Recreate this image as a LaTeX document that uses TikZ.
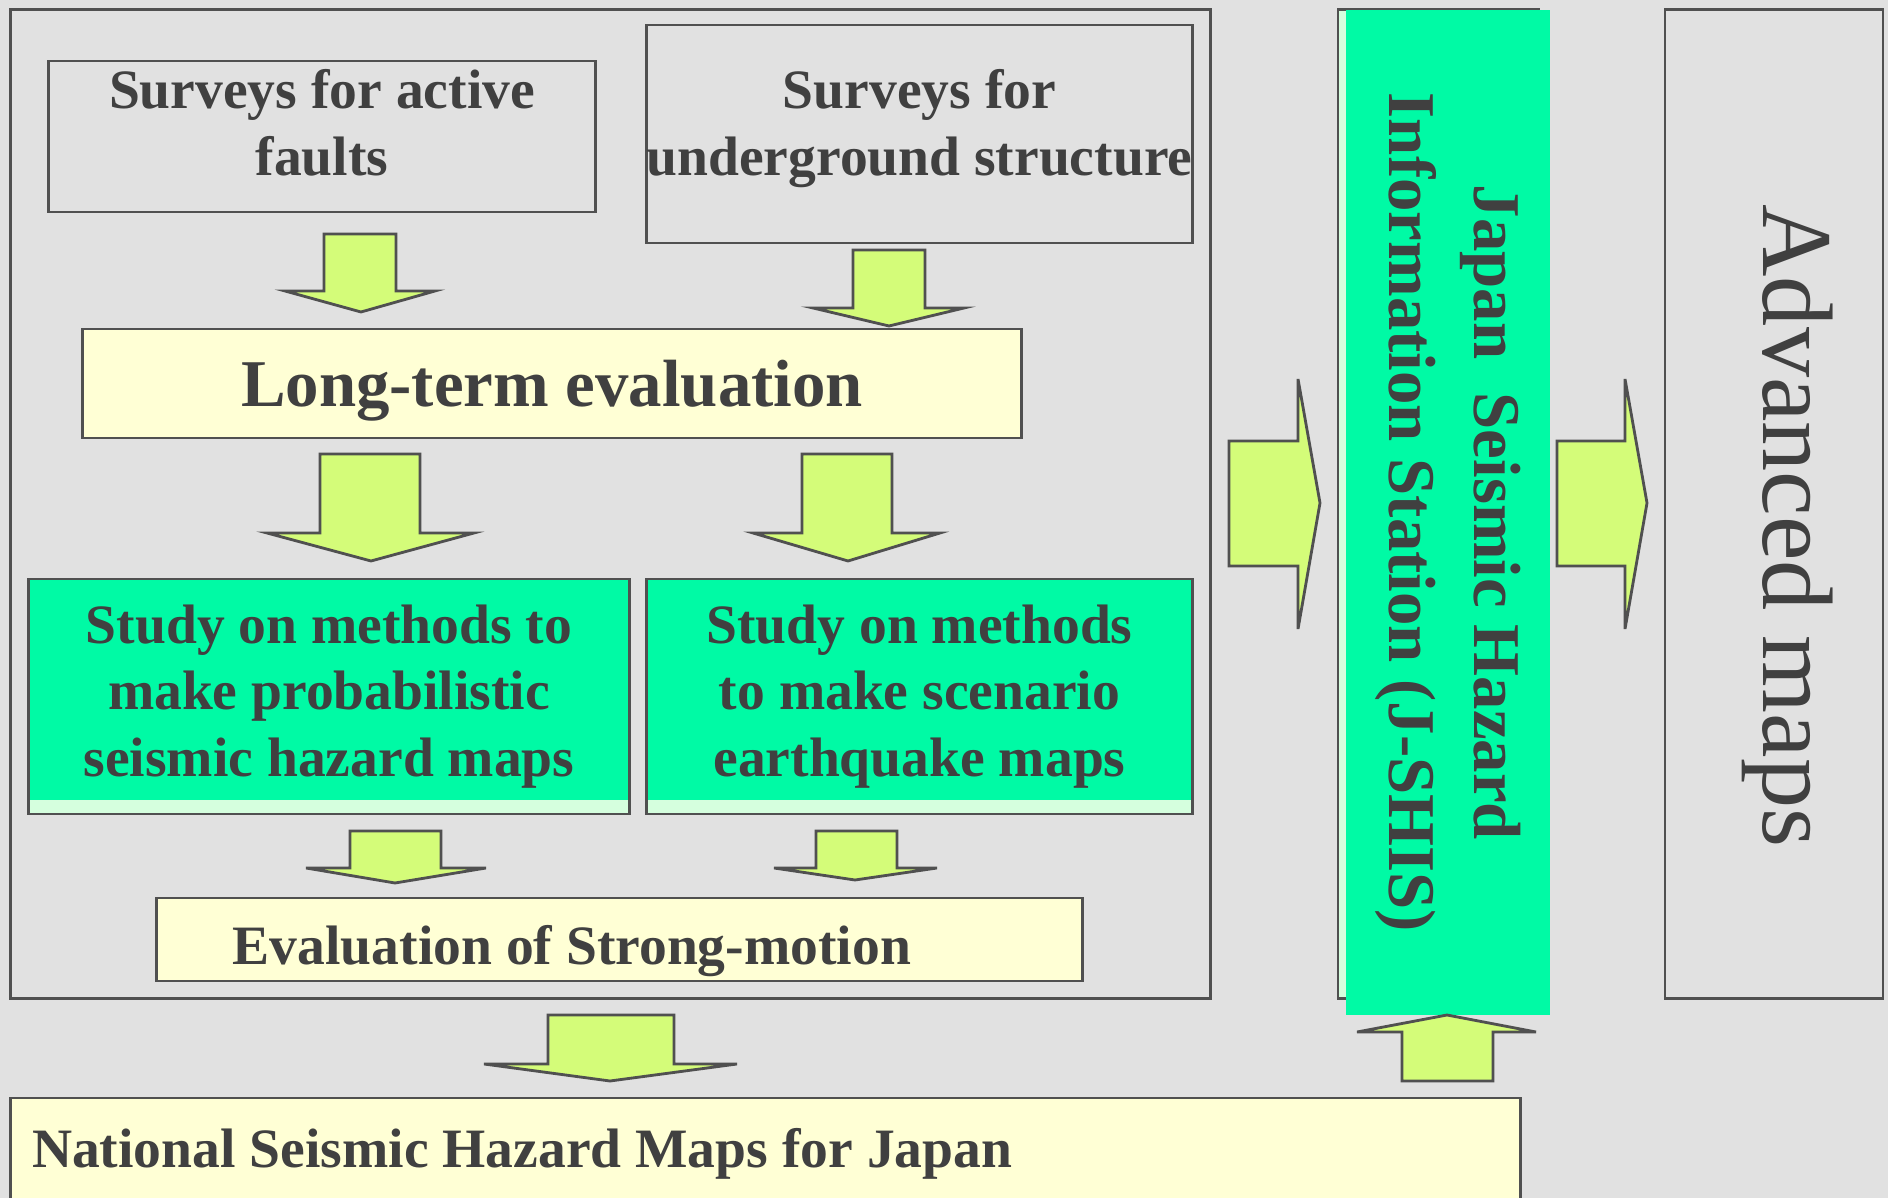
\documentclass[tikz,border=0pt]{standalone}
\usepackage{fontspec}
\setmainfont{Liberation Serif}
\usepackage{tikz}

\definecolor{bggray}{RGB}{225,225,225}
\definecolor{linegray}{RGB}{80,80,80}
\definecolor{txtgray}{RGB}{64,64,64}
\definecolor{cream}{RGB}{255,255,213}
\definecolor{arrowlime}{RGB}{212,252,121}
\definecolor{jgreen}{RGB}{0,250,165}
\definecolor{palegreen}{RGB}{213,255,222}

\begin{document}
\begin{tikzpicture}[x=0.01cm, y=-0.01cm,
  plainbox/.style={draw=linegray, line width=0.8pt, text=txtgray, align=center, inner sep=0pt,
    font=\fontsize{15.8}{19}\selectfont\bfseries},
  creambox/.style={plainbox, fill=cream},
  greenbox/.style={plainbox, fill=jgreen, path picture={
    \fill[palegreen] ([yshift=0.14cm]path picture bounding box.south west) rectangle (path picture bounding box.south east);}},
  fatarrow/.style={draw=linegray, line width=0.8pt, fill=arrowlime}]
\useasboundingbox (0,0) rectangle (1888,1198);
\fill[bggray] (0,0) rectangle (1888,1198);
\clip (0,0) rectangle (1888,1198);

% left frame and the boxes in it
\node[plainbox, minimum width=11.99cm, minimum height=9.88cm] (frame) at (610.5,504) {};
\node[plainbox, minimum width=5.46cm, minimum height=1.51cm] (faults) at (322,136.5) {Surveys for active\\faults\rule[-8pt]{0pt}{8pt}};
\node[plainbox, minimum width=5.45cm, minimum height=2.18cm] (under) at (919.5,134) {Surveys for\\underground structure\rule[-6.8pt]{0pt}{6.8pt}};
\node[creambox, minimum width=9.38cm, minimum height=1.09cm, text height=17pt, text depth=4.1pt,
  font=\fontsize{19}{23}\selectfont\bfseries] (longterm) at (552,383.5) {Long-term evaluation};
\node[greenbox, minimum width=6.00cm, minimum height=2.35cm] (prob) at (329,696.5) {Study on methods to\\make probabilistic\\seismic hazard maps};
\node[greenbox, minimum width=5.45cm, minimum height=2.35cm] (scen) at (919.5,696.5) {Study on methods\\to make scenario\\earthquake maps};
\node[creambox, minimum height=0.83cm, text width=7.73cm, inner xsep=0.76cm, align=flush left,
  text height=17.7pt, text depth=3.4pt] (strong) at (619.5,939.5) {Evaluation of Strong-motion};
\node[creambox, minimum height=1.12cm, text width=14.66cm, inner xsep=0.215cm, align=flush left] (national) at (765.5,1154) {National Seismic Hazard Maps for Japan};

% J-SHIS column
\node[plainbox, fill=palegreen, minimum width=2.01cm, minimum height=9.88cm] (jframe) at (1438.5,504) {};
\node[fill=jgreen, text=txtgray, align=center, inner sep=0pt, rotate=-90, minimum width=10.05cm, minimum height=2.04cm,
  font=\fontsize{19}{24}\selectfont\bfseries] (jshis) at (1448,512.5) {Japan\ \ Seismic Hazard\\Information Station (J-SHIS)};

% advanced maps
\node[plainbox, minimum width=2.18cm, minimum height=9.88cm] (adv) at (1774,504) {};
\node[rotate=-90, text=txtgray, font=\fontsize{28.5}{34}\selectfont] (advtext) at (1788,526) {Advanced maps};

% down arrows
\draw[fatarrow] (324,234) -- (396,234) -- (396,291) -- (435,291) -- (361,312) -- (285,291) -- (324,291) -- cycle;
\draw[fatarrow] (853,250) -- (925,250) -- (925,308) -- (964,308) -- (889,326) -- (813,308) -- (853,308) -- cycle;
\draw[fatarrow] (320,454) -- (420,454) -- (420,533) -- (474,533) -- (371,561) -- (267,533) -- (320,533) -- cycle;
\draw[fatarrow] (802,454) -- (892,454) -- (892,533) -- (940,533) -- (848,561) -- (753,533) -- (802,533) -- cycle;
\draw[fatarrow] (350,831) -- (441,831) -- (441,868) -- (486,868) -- (395,883) -- (306,868) -- (350,868) -- cycle;
\draw[fatarrow] (816,831) -- (897,831) -- (897,868) -- (937,868) -- (855,880) -- (774,868) -- (816,868) -- cycle;
\draw[fatarrow] (548,1015) -- (674,1015) -- (674,1064) -- (737,1064) -- (610,1081) -- (484,1064) -- (548,1064) -- cycle;

% right arrows
\draw[fatarrow] (1229,441) -- (1298,441) -- (1298,379) -- (1320,503) -- (1298,629) -- (1298,566) -- (1229,566) -- cycle;
\draw[fatarrow] (1557,441) -- (1625,441) -- (1625,379) -- (1647,503) -- (1625,629) -- (1625,566) -- (1557,566) -- cycle;

% up arrow
\draw[fatarrow] (1402,1081) -- (1493,1081) -- (1493,1032) -- (1536,1032) -- (1447,1015) -- (1357,1032) -- (1402,1032) -- cycle;
\end{tikzpicture}
\end{document}
